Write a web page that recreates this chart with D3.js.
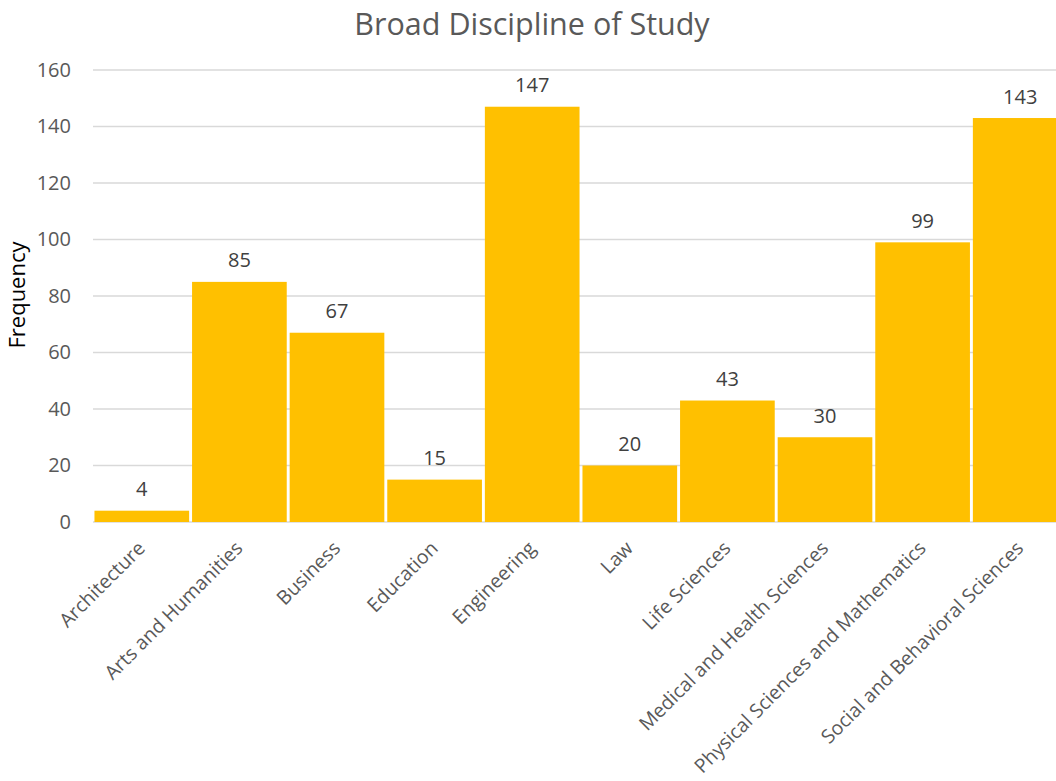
<!DOCTYPE html>
<html>
<head>
<meta charset="utf-8">
<script src="https://cdn.jsdelivr.net/npm/d3@7"></script>
<style>
  html, body { margin: 0; padding: 0; background: #fff; }
  svg { display: block; font-family: "Open Sans", Lato, sans-serif; }
</style>
</head>
<body>
<svg id="chart" width="1056" height="781"></svg>
<script>
const categories = [
  "Architecture", "Arts and Humanities", "Business", "Education", "Engineering",
  "Law", "Life Sciences", "Medical and Health Sciences",
  "Physical Sciences and Mathematics", "Social and Behavioral Sciences"
];
const frequencies = [4, 85, 67, 15, 147, 20, 43, 30, 99, 143];
const yTicks = [0, 20, 40, 60, 80, 100, 120, 140, 160];

const FONT = "'Open Sans', Lato, sans-serif";
const svg = d3.select("#chart");
const plot = { left: 93, right: 1069, top: 70, bottom: 522 };

const x = d3.scaleBand()
  .domain(categories)
  .range([plot.left, plot.right])
  .paddingInner(0.03)
  .paddingOuter(0.015);

const y = d3.scaleLinear()
  .domain([0, 160])
  .range([plot.bottom, plot.top]);

// horizontal gridlines
svg.append("g")
  .selectAll("line")
  .data(yTicks)
  .join("line")
  .attr("x1", plot.left)
  .attr("x2", 1056)
  .attr("y1", d => y(d))
  .attr("y2", d => y(d))
  .attr("stroke", "#d9d9d9")
  .attr("stroke-width", 1.3);

// y axis labels
const yAxis = svg.append("g")
  .attr("transform", `translate(${plot.left - 22},0)`)
  .call(d3.axisLeft(y).tickValues(yTicks).tickSize(0).tickPadding(0));
yAxis.select(".domain").remove();
yAxis.selectAll("text")
  .attr("fill", "#595959")
  .style("font-size", "20px")
  .style("font-family", FONT);

// bars
svg.append("g")
  .selectAll("rect")
  .data(categories)
  .join("rect")
  .attr("x", d => x(d))
  .attr("width", x.bandwidth())
  .attr("y", (d, i) => y(frequencies[i]))
  .attr("height", (d, i) => y(0) - y(frequencies[i]))
  .attr("fill", "#ffc000");

// value labels
svg.append("g")
  .selectAll("text")
  .data(categories)
  .join("text")
  .attr("x", d => x(d) + x.bandwidth() / 2)
  .attr("y", (d, i) => y(frequencies[i]) - 14.5)
  .attr("text-anchor", "middle")
  .attr("fill", "#404040")
  .style("font-size", "20px")
  .text((d, i) => frequencies[i]);

// category labels
const xAxis = svg.append("g")
  .attr("transform", `translate(0,${plot.bottom})`)
  .call(d3.axisBottom(x).tickSize(0).tickPadding(0));
xAxis.select(".domain").remove();
xAxis.selectAll("text")
  .attr("fill", "#595959")
  .style("font-size", "19.5px")
  .style("font-family", FONT)
  .attr("text-anchor", "end")
  .attr("dy", null)
  .attr("y", 0)
  .attr("transform", "translate(4.5,27.5) rotate(-45)");

// axis title
svg.append("text")
  .attr("transform", "translate(25,295) rotate(-90)")
  .attr("text-anchor", "middle")
  .attr("fill", "#000")
  .style("font-size", "22px")
  .text("Frequency");

// chart title
svg.append("text")
  .attr("x", 532)
  .attr("y", 35)
  .attr("text-anchor", "middle")
  .attr("fill", "#595959")
  .style("font-size", "30.5px")
  .text("Broad Discipline of Study");
</script>
</body>
</html>
